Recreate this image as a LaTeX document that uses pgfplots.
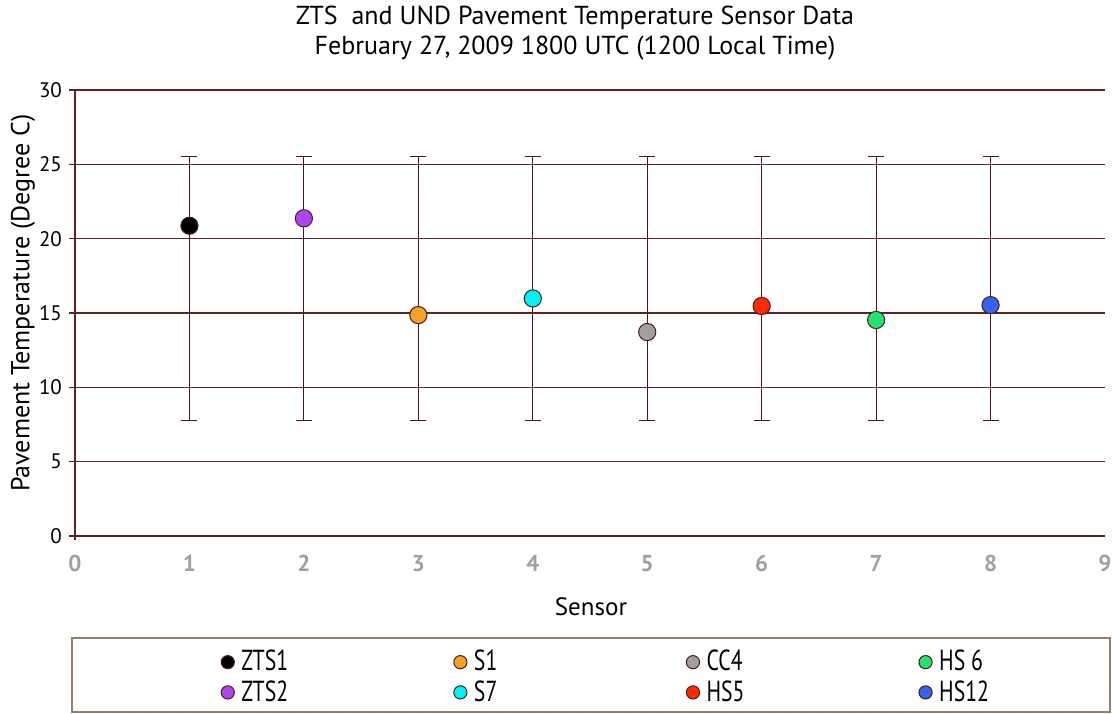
\documentclass[border=0pt]{standalone}
\usepackage{pgfplots}
\pgfplotsset{compat=1.18}
\usepackage{fontspec}
\setmainfont{PT Sans}
\usepackage{graphicx}
\definecolor{gridc}{HTML}{5A2424}
\definecolor{errc}{HTML}{4A1818}
\definecolor{markc}{HTML}{4A1A1A}
\definecolor{tickgray}{HTML}{A0A0A0}
\definecolor{cZTSa}{HTML}{000000}
\definecolor{cZTSb}{HTML}{B044F2}
\definecolor{cSa}{HTML}{F7A128}
\definecolor{cSb}{HTML}{00F2F2}
\definecolor{cCC}{HTML}{A3A09F}
\definecolor{cHSa}{HTML}{FF2A00}
\definecolor{cHSb}{HTML}{22E46E}
\definecolor{cHSc}{HTML}{3562F0}
\newcommand{\lt}[1]{\makebox[107.7pt][l]{\hspace{2.5pt}\scalebox{0.75}[1]{#1}}}
\begin{document}
\begin{tikzpicture}
\useasboundingbox (-37.5pt,-88.5pt) rectangle (518.5pt,268pt);
\begin{axis}[
  scale only axis,
  width=515pt, height=223pt,
  xmin=0, xmax=9, ymin=0, ymax=30,
  xtick={0,1,...,9}, ytick={0,5,...,30},
  axis x line*=bottom, axis y line*=left,
  x axis line style={draw=none},
  y axis line style={draw=gridc, line width=0.8pt, shorten <=-2pt},
  ymajorgrids,
  grid style={draw=gridc, line width=0.8pt},
  xtick style={draw=none},
  ytick style={draw=gridc, line width=0.7pt},
  tick align=outside,
  major tick length=3pt,
  /pgf/number format/assume math mode=true,
  xticklabel style={font=\fontsize{11.5}{13}\selectfont\bfseries, text=tickgray, yshift=-3pt},
  yticklabel style={font=\fontsize{10.5}{12}\selectfont},
  clip=false,
  legend columns=4,
  legend style={at={(axis description cs:0.1357,-0.242)}, anchor=north west,
    draw=none, fill=none, font=\fontsize{14.5}{16}\selectfont,
    row sep=1.3pt, nodes={inner sep=1pt}},
  legend image code/.code={\draw[#1, mark size=3.3pt] plot coordinates {(0cm,0cm)};},
  error bars/y dir=both, error bars/y explicit,
  error bars/error bar style={draw=errc, line width=0.6pt},
  error bars/error mark options={rotate=90, draw=errc, mark size=4pt, line width=0.6pt},
]
\addplot[only marks, mark=*, mark size=4.3pt, mark options={draw=markc, fill=cZTSa, line width=0.5pt}]
  coordinates {(1,20.87) += (0,4.68) -= (0,13.12)};
\addlegendentry{\lt{ZTS1}}
\addplot[only marks, mark=*, mark size=4.3pt, mark options={draw=markc, fill=cSa, line width=0.5pt}]
  coordinates {(3,14.86) += (0,10.69) -= (0,7.11)};
\addlegendentry{\lt{S1}}
\addplot[only marks, mark=*, mark size=4.3pt, mark options={draw=markc, fill=cCC, line width=0.5pt}]
  coordinates {(5,13.72) += (0,11.83) -= (0,5.97)};
\addlegendentry{\lt{CC4}}
\addplot[only marks, mark=*, mark size=4.3pt, mark options={draw=markc, fill=cHSb, line width=0.5pt}]
  coordinates {(7,14.53) += (0,11.02) -= (0,6.78)};
\addlegendentry{\lt{HS 6}}
\addplot[only marks, mark=*, mark size=4.3pt, mark options={draw=markc, fill=cZTSb, line width=0.5pt}]
  coordinates {(2,21.37) += (0,4.18) -= (0,13.62)};
\addlegendentry{\lt{ZTS2}}
\addplot[only marks, mark=*, mark size=4.3pt, mark options={draw=markc, fill=cSb, line width=0.5pt}]
  coordinates {(4,15.98) += (0,9.57) -= (0,8.23)};
\addlegendentry{\lt{S7}}
\addplot[only marks, mark=*, mark size=4.3pt, mark options={draw=markc, fill=cHSa, line width=0.5pt}]
  coordinates {(6,15.47) += (0,10.08) -= (0,7.72)};
\addlegendentry{\lt{HS5}}
\addplot[only marks, mark=*, mark size=4.3pt, mark options={draw=markc, fill=cHSc, line width=0.5pt}]
  coordinates {(8,15.53) += (0,10.02) -= (0,7.78)};
\addlegendentry{\lt{HS12}}
\end{axis}
\node[font=\fontsize{13}{15}\selectfont, align=center] at (250pt,251.5pt)
  {ZTS\ \ and UND Pavement Temperature Sensor Data\\February 27, 2009 1800 UTC (1200 Local Time)};
\node[font=\fontsize{12.5}{15}\selectfont] at (258pt,-35.5pt) {Sensor};
\node[font=\fontsize{13}{15}\selectfont, rotate=90] at (-26pt,116.5pt) {Pavement Temperature (Degree C)};
\draw[draw=gray!70!brown, line width=0.6pt] (-1.5pt,-51pt) rectangle (517.5pt,-88pt);
\end{tikzpicture}
\end{document}
